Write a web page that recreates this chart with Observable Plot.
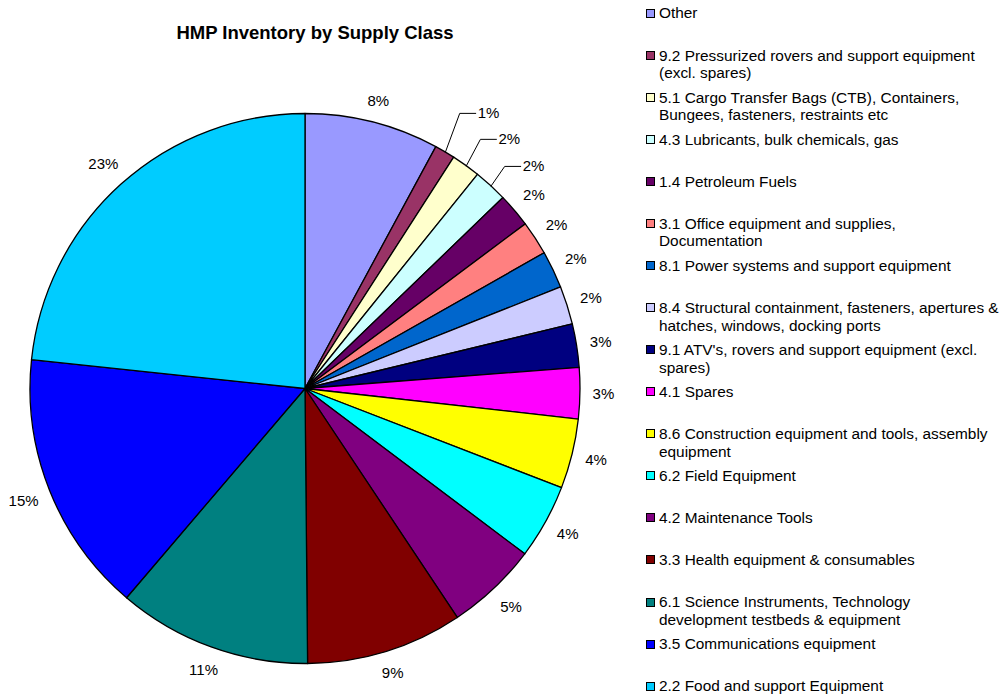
<!DOCTYPE html>
<html>
<head>
<meta charset="utf-8">
<script src="https://cdn.jsdelivr.net/npm/d3@7"></script>
<script src="https://cdn.jsdelivr.net/npm/@observablehq/plot@0.6"></script>
<style>
  html, body { margin: 0; padding: 0; background: #fff; }
  #wrap { position: relative; width: 1005px; height: 698px; overflow: hidden;
          font-family: Arial, "Liberation Sans", sans-serif; color: #000; }
  #title { position: absolute; left: 0; width: 630px; top: 22px; text-align: center;
           font-weight: bold; font-size: 18.5px; line-height: 22px; }
  #chart { position: absolute; left: 0; top: 0; }
  #legend { position: absolute; left: 646px; top: 0; width: 359px; }
  .item { position: absolute; left: 0; white-space: pre; font-size: 15.4px; line-height: 17.7px; }
  .sw { position: absolute; left: 0; top: 4.4px; width: 7px; height: 7px; border: 1px solid #000; }
  .lt { position: absolute; left: 13px; top: 0; }
</style>
</head>
<body>
<div id="wrap">
  <div id="chart"></div>
  <div id="title">HMP Inventory by Supply Class</div>
  <div id="legend"></div>
</div>
<script>
// ---- data ----
const categories = [
  "Other",
  "9.2 Pressurized rovers and support equipment\n(excl. spares)",
  "5.1 Cargo Transfer Bags (CTB), Containers,\nBungees, fasteners, restraints etc",
  "4.3 Lubricants, bulk chemicals, gas",
  "1.4 Petroleum Fuels",
  "3.1 Office equipment and supplies,\nDocumentation",
  "8.1 Power systems and support equipment",
  "8.4 Structural containment, fasteners, apertures &\nhatches, windows, docking ports",
  "9.1 ATV's, rovers and support equipment (excl.\nspares)",
  "4.1 Spares",
  "8.6 Construction equipment and tools, assembly\nequipment",
  "6.2 Field Equipment",
  "4.2 Maintenance Tools",
  "3.3 Health equipment & consumables",
  "6.1 Science Instruments, Technology\ndevelopment testbeds & equipment",
  "3.5 Communications equipment",
  "2.2 Food and support Equipment"
];
const values = [7.9, 1.2, 1.7, 2.0, 2.0, 2.0, 2.2, 2.25, 2.55, 3.0, 4.1, 4.4, 5.4, 9.2, 11.4, 15.45, 23.35];
const colors = [
  "#9999FF", "#993366", "#FFFFCC", "#CCFFFF", "#660066", "#FF8080", "#0066CC", "#CCCCFF",
  "#000080", "#FF00FF", "#FFFF00", "#00FFFF", "#800080", "#800000", "#008080", "#0000FF", "#00CCFF"
];
// ---- layout (not data) ----
const cxPx = 305, cyPx = 388.5, rPx = 275;
const labelGap = 287;       // px from centre to nearest edge of a label box
const leaderLayout = [      // slices whose labels are pulled out with leader lines
  {i: 1, dA: 1.43, r: 325},
  {i: 2, dA: 1.91, r: 315.5},
  {i: 3, dA: 1.86, r: 311}
];

// ---- derived ----
const total = d3.sum(values);
const arcs = d3.pie().sort(null).value(d => d)(values);
const pctText = values.map(v => Math.round(v / total * 100) + "%");
const fs = 15;
const textW = s => (s.replace("%", "").length * 0.556 + 0.889) * fs;

const leaderIdx = new Set(leaderLayout.map(d => d.i));
const plainLabels = [];
arcs.forEach((a, i) => {
  if (leaderIdx.has(i)) return;
  const m = (a.startAngle + a.endAngle) / 2;
  const ext = Math.abs(Math.sin(m)) * textW(pctText[i]) / 2 + Math.abs(Math.cos(m)) * 7;
  const d = (labelGap + ext) / rPx;
  plainLabels.push({x: d * Math.sin(m), y: d * Math.cos(m), text: pctText[i]});
});
const leaderLabels = [];
const leaderLines = [];
leaderLayout.forEach(({i, dA, r}) => {
  const a = arcs[i];
  const m = (a.startAngle + a.endAngle) / 2;
  const la = m + dA * Math.PI / 180;
  const lx = r / rPx * Math.sin(la), ly = r / rPx * Math.cos(la);
  leaderLabels.push({x: lx, y: ly, text: pctText[i]});
  leaderLines.push({x: Math.sin(m), y: Math.cos(m), z: i});
  leaderLines.push({x: lx - 18 / rPx, y: ly, z: i});
  leaderLines.push({x: lx - 2 / rPx, y: ly, z: i});
});

function pieSlices(index, scales) {
  const cx = scales.x(0), cy = scales.y(0), r = scales.x(1) - scales.x(0);
  const g = d3.create("svg:g").attr("transform", `translate(${cx},${cy})`);
  const arc = d3.arc().innerRadius(0).outerRadius(r);
  g.selectAll("path").data(arcs).join("path")
    .attr("d", arc)
    .attr("fill", (d, i) => colors[i])
    .attr("stroke", "#000")
    .attr("stroke-width", 1.3)
    .attr("stroke-linejoin", "round");
  return g.node();
}

const chart = Plot.plot({
  width: 640,
  height: 698,
  margin: 0,
  x: {domain: [-1, 1], range: [cxPx - rPx, cxPx + rPx], axis: null},
  y: {domain: [-1, 1], range: [cyPx + rPx, cyPx - rPx], axis: null},
  style: {background: "transparent", overflow: "visible", fontFamily: 'Arial, "Liberation Sans", sans-serif'},
  marks: [
    pieSlices,
    Plot.line(leaderLines, {x: "x", y: "y", z: "z", stroke: "#000", strokeWidth: 1}),
    Plot.text(plainLabels, {x: "x", y: "y", text: "text", fontSize: fs, fill: "#000",
      fontFamily: 'Arial, "Liberation Sans", sans-serif'}),
    Plot.text(leaderLabels, {x: "x", y: "y", text: "text", fontSize: fs, fill: "#000", textAnchor: "start",
      fontFamily: 'Arial, "Liberation Sans", sans-serif'})
  ]
});
document.getElementById("chart").appendChild(chart);

// legend
const legend = d3.select("#legend");
categories.forEach((c, i) => {
  const yc = 13.3 + i * 42.05;
  const item = legend.append("div").attr("class", "item").style("top", (yc - 17.7 / 2) + "px");
  item.append("div").attr("class", "sw").style("background", colors[i]);
  item.append("div").attr("class", "lt").text(c);
});
</script>
</body>
</html>
